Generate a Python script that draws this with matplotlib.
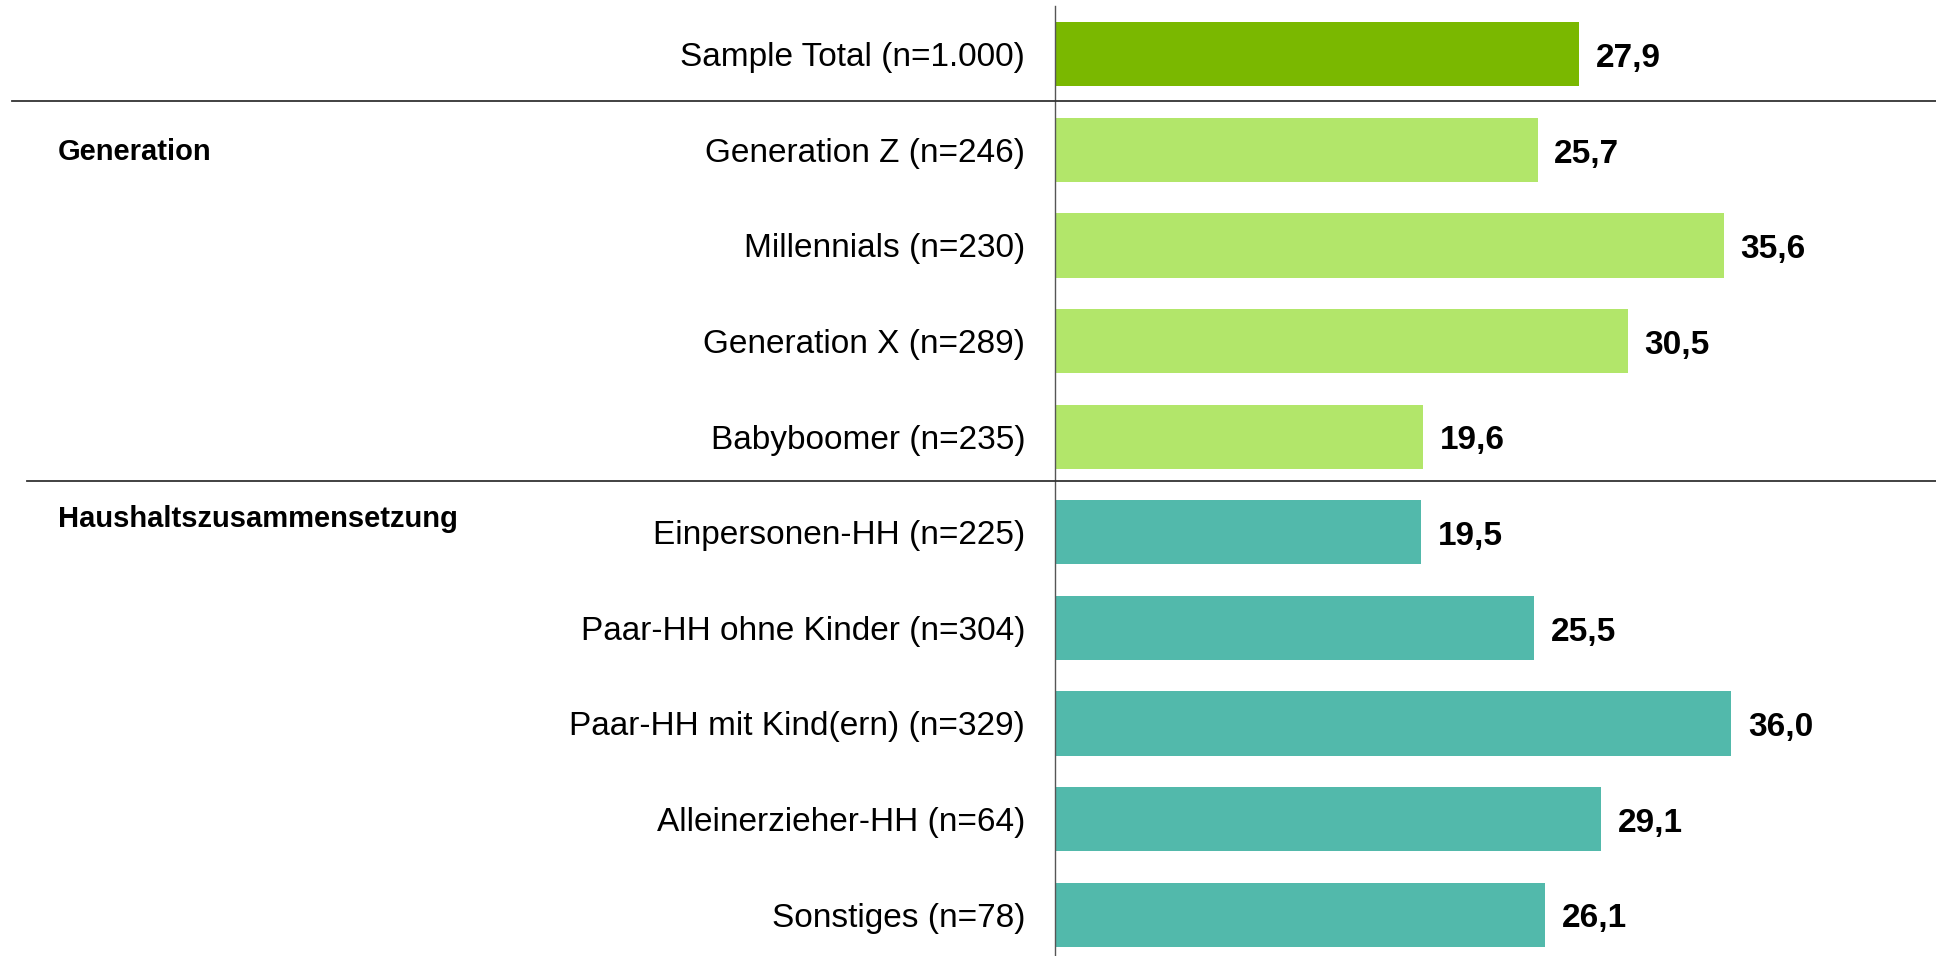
import matplotlib.pyplot as plt

plt.rcParams['font.family'] = ['Liberation Sans', 'DejaVu Sans']

# Data
labels = [
    'Sample Total (n=1.000)',
    'Generation Z (n=246)',
    'Millennials (n=230)',
    'Generation X (n=289)',
    'Babyboomer (n=235)',
    'Einpersonen-HH (n=225)',
    'Paar-HH ohne Kinder (n=304)',
    'Paar-HH mit Kind(ern) (n=329)',
    'Alleinerzieher-HH (n=64)',
    'Sonstiges (n=78)',
]
values = [27.9, 25.7, 35.6, 30.5, 19.6, 19.5, 25.5, 36.0, 29.1, 26.1]
groups = ['Total', 'Generation', 'Generation', 'Generation', 'Generation',
          'Haushalt', 'Haushalt', 'Haushalt', 'Haushalt', 'Haushalt']

group_colors = {'Total': '#7AB800', 'Generation': '#B2E66A', 'Haushalt': '#52B9AB'}
colors = [group_colors[g] for g in groups]

W, H = 1936, 956
fig = plt.figure(figsize=(W / 100, H / 100), dpi=100)
ax = fig.add_axes([1054.5 / W, 0, 1 - 1054.5 / W, 1 - 6 / H])

pos = list(range(len(values)))
ax.barh(pos, values, height=0.67, color=colors)
ax.set_ylim(len(values) - 1 + 0.432, -0.505)
ax.set_xlim(0, 46.9)

ax.set_yticks(pos)
ax.set_yticklabels(labels, fontsize=24)
ax.tick_params(axis='y', length=0, pad=21)
ax.set_xticks([])

for s in ['top', 'right', 'bottom']:
    ax.spines[s].set_visible(False)
ax.spines['left'].set_color('#555555')
ax.spines['left'].set_linewidth(1.0)

# value labels
for y, v in zip(pos, values):
    ax.annotate(f'{v:.1f}'.replace('.', ','), (v, y), xytext=(12, -3),
                textcoords='offset points', va='center', ha='left',
                fontsize=24, fontweight='bold')

# separator lines between groups
for y_sep, x0 in [(0.49, 12), (4.46, 27)]:
    yf = 1 - (6 + (y_sep + 0.505) * (H - 6) / (len(values) - 1 + 0.432 + 0.505)) / H
    fig.add_artist(plt.Line2D([x0 / W, 1], [yf, yf], color='#333333', lw=1.3))

# group titles on the left
fig.text(58 / W, 1 - 152 / H, 'Generation', fontsize=21, fontweight='bold', va='center')
fig.text(58 / W, 1 - 519 / H, 'Haushaltszusammensetzung', fontsize=21,
         fontweight='bold', va='center')

fig.savefig('out.png', dpi=100)
